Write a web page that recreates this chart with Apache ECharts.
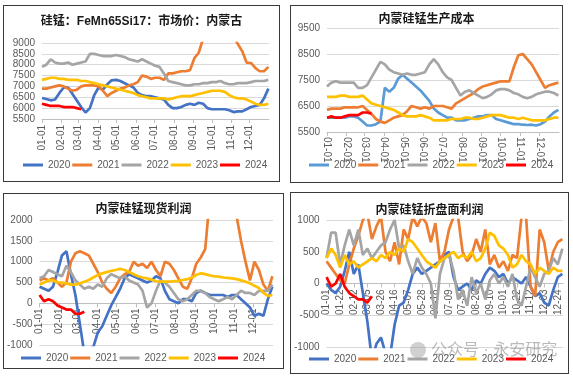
<!DOCTYPE html>
<html>
<head>
<meta charset="utf-8">
<script src="https://cdn.jsdelivr.net/npm/echarts@6/dist/echarts.min.js"></script>
<style>
html, body { margin: 0; padding: 0; background: #fff; width: 573px; height: 377px; overflow: hidden; }
.panel { position: absolute; border: 1px solid #3a3a3a; box-sizing: border-box; background: #fff; }
</style>
</head>
<body>
<div id="p1" class="panel" style="left:3px;top:5px;width:277px;height:177px"></div>
<div id="p2" class="panel" style="left:290px;top:5px;width:273px;height:178px"></div>
<div id="p3" class="panel" style="left:3px;top:193px;width:281px;height:176px"></div>
<div id="p4" class="panel" style="left:290px;top:192px;width:279px;height:182px"></div>
<script>
const FONT = '"Liberation Sans", "Noto Sans CJK SC", sans-serif';
const years = ['2020', '2021', '2022', '2023', '2024'];

// x 轴刻度（一年中的第几天）
const monthDays = [0, 31, 59, 90, 120, 151, 181, 212, 243, 273, 304, 334];
const monthLabels = ['01-01', '02-01', '03-01', '04-01', '05-01', '06-01', '07-01', '08-01', '09-01', '10-01', '11-01', '12-01'];
const p4Days = [0, 21, 42, 63, 84, 105, 126, 147, 168, 189, 210, 231, 252, 273, 294, 315, 336, 357];
const p4Labels = ['01-01', '01-22', '02-12', '03-05', '03-26', '04-16', '05-07', '05-28', '06-18', '07-09', '07-30', '08-20', '09-10', '10-01', '10-22', '11-12', '12-03', '12-24'];

// 硅锰：FeMn65Si17：市场价：内蒙古 （周度读数）
const p1_2020 = [6470,6420,6360,6400,6700,6950,6950,6650,6350,6050,5800,6000,6600,6950,6850,7100,7280,7300,7250,7150,7050,6950,6700,6600,6550,6550,6500,6450,6400,6150,6000,6000,6050,6150,6200,6150,6250,6200,6000,5950,5950,5950,5950,5900,5820,5850,5850,5950,6050,6100,6150,6450,6900];
const p1_2021 = [6900,6900,6950,7000,7050,7000,6900,6800,6850,7000,7050,7050,7050,7000,6800,6550,6700,6800,6900,6950,7050,7100,7200,7500,7450,7350,7400,7400,7300,7600,7600,7650,7700,7700,7750,8300,8550,9200,10000,10500,10800,10500,10000,9600,9300,8950,8620,8100,8080,7850,7700,7700,7900];
const p1_2022 = [7900,8000,8250,8100,8050,8050,8100,8000,8050,8100,8150,8500,8500,8450,8400,8400,8400,8450,8400,8350,8250,8200,8150,8250,8150,8050,7950,7900,7600,7250,7200,7150,7100,7050,7050,7100,7100,7150,7150,7200,7200,7250,7150,7100,7100,7150,7150,7150,7200,7250,7250,7250,7300];
const p1_2023 = [7300,7350,7400,7400,7350,7350,7300,7300,7300,7250,7250,7200,7150,7100,7050,7000,6950,6900,6850,6800,6750,6700,6600,6550,6500,6450,6450,6450,6450,6400,6450,6500,6550,6550,6550,6600,6650,6700,6750,6800,6800,6800,6750,6600,6500,6450,6450,6400,6300,6200,6150,6150,6200];
const p1_2024 = [6200,6150,6100,6100,6100,6050,6050,6050,6000,5950];

// 内蒙硅锰生产成本
const p2_2020 = [6050,6050,6050,6050,6050,6100,6100,6050,5900,5750,5750,5800,5900,7200,7050,7200,7550,7700,7550,7400,7250,7100,6900,6700,6400,6250,6150,6050,6050,5950,5950,5950,6000,6050,6100,6100,6150,6150,6000,5950,5900,5850,5800,5800,5780,5770,5780,5750,5800,5900,6100,6250,6350];
const p2_2021 = [6350,6400,6400,6400,6450,6450,6450,6450,6500,6350,6200,6000,5900,5850,5950,6050,6100,6150,6300,6500,6450,6400,6450,6400,6500,6500,6500,6450,6400,6600,6700,6800,6900,7000,7150,7250,7300,7350,7400,7450,7450,7450,8000,8450,8500,8300,8100,7800,7500,7200,7300,7350,7400];
const p2_2022 = [7250,7400,7450,7400,7400,7400,7400,7200,7200,7300,7600,7900,8200,8100,7900,7800,7750,7700,7750,7700,7700,7750,7800,8100,8300,8100,7800,7600,7500,7200,6900,7050,7100,7000,6900,6800,6850,6950,7100,7150,7150,7100,7000,6950,6850,6800,6850,6950,7000,7050,7050,7000,6900];
const p2_2023 = [6850,6850,6850,6900,6900,6850,6850,6850,6900,6750,6600,6550,6500,6450,6400,6350,6250,6150,6100,6100,6100,6150,6100,6050,5950,5950,5950,5950,6000,6000,6000,6050,6050,6000,6000,6050,6100,6150,6150,6150,6100,6050,6050,6000,6050,6000,5950,5950,5950,5950,6000,6050,6050];
const p2_2024 = [6050,6100,6050,6050,6100,6150,6150,6150,6250,6250,6200];

// 内蒙硅锰现货利润
const p3_2020 = [400,350,300,400,750,1150,1250,700,200,-500,-1200,-1100,-1050,-700,-550,-300,-50,150,350,600,700,650,600,550,500,550,650,600,300,100,50,0,100,100,50,250,300,250,200,200,200,200,150,200,200,100,0,-100,-300,-250,-300,100,400];
const p3_2021 = [550,600,550,600,500,400,500,1000,1200,1250,1200,1150,950,750,500,350,250,400,600,700,750,1000,900,950,850,1000,800,650,1000,950,800,600,400,350,600,950,1100,1300,2500,3500,4000,3500,3000,2600,2100,1500,1000,550,1000,800,450,300,650];
const p3_2022 = [600,650,800,750,700,650,900,750,550,450,350,400,350,450,400,600,700,650,600,650,550,500,450,300,-100,0,300,550,500,400,250,100,50,100,200,300,300,250,150,100,50,100,150,100,200,300,250,250,200,300,300,300,450];
const p3_2023 = [450,500,550,550,500,500,480,450,450,480,520,560,620,680,720,750,780,800,830,800,750,700,650,620,600,570,530,520,520,520,530,540,560,580,620,680,720,700,670,650,640,620,610,600,580,550,520,480,420,370,250,180,200];
const p3_2024 = [200,50,100,50,-50,-100,-150,-150,-250,-250,-200];

// 内蒙硅锰折盘面利润
const p4_2020 = [0,-100,-150,-50,200,500,150,300,-150,-600,-1200,-950,-850,-1100,-1150,-650,-350,-300,-100,150,250,150,200,250,300,350,450,500,100,-100,-50,0,-100,50,0,150,250,200,100,150,0,100,50,0,100,-50,-200,-150,-300,-350,-100,100,150];
const p4_2021 = [350,250,150,50,0,300,550,750,1000,1100,700,900,1050,500,350,650,300,850,700,1050,900,1050,950,650,950,350,500,850,1050,1050,500,350,450,700,500,850,300,450,250,350,200,450,400,1050,1050,-50,-200,850,650,200,500,650,700];
const p4_2022 = [400,800,800,300,600,850,600,850,450,550,400,500,600,650,850,1000,550,600,350,150,400,250,150,0,-550,150,400,450,200,-250,-100,-350,100,-150,0,-250,50,150,0,100,-50,150,-250,-350,-50,250,100,-50,150,200,400,300,550];
const p4_2023 = [400,550,450,250,450,300,350,250,300,350,400,350,450,400,500,450,550,500,700,650,550,450,350,300,250,350,400,450,500,400,450,400,500,350,400,550,800,750,600,550,450,250,300,450,350,300,150,250,200,150,250,200,200];
const p4_2024 = [100,-50,0,150,-50,-150,-200,-250,-250,-300,-200];

const darkColors = ['#4472C4', '#ED7D31', '#A5A5A5', '#FFC000', '#FF0000'];
const lightColors = ['#5B9BD5', '#ED7D31', '#A5A5A5', '#FFC000', '#FF0000'];

// 周度数据 -> [第几天, 值]
function weekly(values) {
    return values.map((v, i) => [i * 7, v]);
}

function panelOption(cfg, height) {
    const labelOf = v => {
        const k = cfg.tickDays.indexOf(Math.round(v));
        return k >= 0 ? cfg.tickLabels[k] : '';
    };
    // 横轴放在 0 值处（纵轴含负值时）
    const plotH = height - cfg.grid.top - cfg.grid.bottom;
    const zeroOffset = cfg.yMin < 0 ? -plotH * (0 - cfg.yMin) / (cfg.yMax - cfg.yMin) : 0;
    return {
        animation: false,
        textStyle: { fontFamily: FONT },
        title: {
            text: cfg.title, left: 'center', top: cfg.titleTop, padding: 0,
            textStyle: { fontSize: 12, fontWeight: 'bold', color: '#1a1a1a', fontFamily: FONT }
        },
        legend: {
            data: years, left: cfg.legendLeft, top: cfg.legendTop, padding: 0, width: 270,
            icon: 'rect', itemWidth: 20, itemHeight: 3, itemGap: 2,
            textStyle: { fontSize: 10, color: '#595959', fontFamily: FONT }
        },
        grid: cfg.grid,
        xAxis: {
            type: 'value', min: 0, max: 365, position: 'bottom', offset: zeroOffset,
            axisLine: { onZero: false, lineStyle: { color: '#bfbfbf' } },
            axisTick: { show: true, customValues: cfg.tickDays, length: 4, lineStyle: { color: '#bfbfbf' } },
            axisLabel: {
                customValues: cfg.tickDays, rotate: cfg.rotate, margin: cfg.xMargin,
                fontSize: 10, color: '#595959', fontFamily: FONT, formatter: labelOf
            },
            splitLine: { show: false }
        },
        yAxis: {
            type: 'value', min: cfg.yMin, max: cfg.yMax, interval: cfg.yStep,
            axisLine: { show: false, onZero: false }, axisTick: { show: false },
            axisLabel: { fontSize: 10, color: '#595959', margin: 7, fontFamily: FONT, formatter: v => String(v) },
            splitLine: { lineStyle: { color: '#d9d9d9', width: 1 } }
        },
        graphic: cfg.graphic || [],
        series: cfg.series.map((d, i) => ({
            name: years[i], type: 'line', data: weekly(d),
            symbol: 'none', showSymbol: false, clip: true,
            lineStyle: { width: 2.7, color: cfg.colors[i] },
            itemStyle: { color: cfg.colors[i] }
        }))
    };
}

const panels = [
    {
        id: 'p1', title: '硅锰：FeMn65Si17：市场价：内蒙古', titleTop: 10,
        grid: { left: 38, right: 10, top: 37, bottom: 62 },
        yMin: 5500, yMax: 9000, yStep: 500,
        tickDays: monthDays, tickLabels: monthLabels, rotate: 90, xMargin: 6,
        legendLeft: 19, legendTop: 154, colors: darkColors,
        series: [p1_2020, p1_2021, p1_2022, p1_2023, p1_2024]
    },
    {
        id: 'p2', title: '内蒙硅锰生产成本', titleTop: 8,
        grid: { left: 36, right: 3, top: 22, bottom: 50 },
        yMin: 5500, yMax: 9500, yStep: 1000,
        tickDays: monthDays, tickLabels: monthLabels, rotate: -90, xMargin: 5,
        legendLeft: 18, legendTop: 154, colors: lightColors,
        series: [p2_2020, p2_2021, p2_2022, p2_2023, p2_2024]
    },
    {
        id: 'p3', title: '内蒙硅锰现货利润', titleTop: 10,
        grid: { left: 32, right: 10, top: 26, bottom: 23 },
        yMin: -1000, yMax: 2000, yStep: 500,
        tickDays: monthDays, tickLabels: monthLabels, rotate: 90, xMargin: 5,
        legendLeft: 17, legendTop: 159, colors: darkColors,
        series: [p3_2020, p3_2021, p3_2022, p3_2023, p3_2024]
    },
    {
        id: 'p4', title: '内蒙硅锰折盘面利润', titleTop: 12,
        grid: { left: 34, right: 5, top: 27, bottom: 26 },
        yMin: -1000, yMax: 1000, yStep: 500,
        tickDays: p4Days, tickLabels: p4Labels, rotate: 90, xMargin: 6,
        legendLeft: 18, legendTop: 161, colors: darkColors,
        series: [p4_2020, p4_2021, p4_2022, p4_2023, p4_2024],
        graphic: [
            { type: 'circle', z: 100, shape: { cx: 127, cy: 157, r: 8 }, style: { fill: 'rgba(150,150,150,0.45)' } },
            { type: 'text', z: 100, left: 140, top: 150, style: { text: '公众号 · 永安研究', fontSize: 16, fill: 'rgba(130,130,130,0.55)', fontFamily: FONT } }
        ]
    }
];

panels.forEach(cfg => {
    const el = document.getElementById(cfg.id);
    const chart = echarts.init(el, null, { renderer: 'canvas' });
    chart.setOption(panelOption(cfg, el.clientHeight));
});
</script>
</body>
</html>
